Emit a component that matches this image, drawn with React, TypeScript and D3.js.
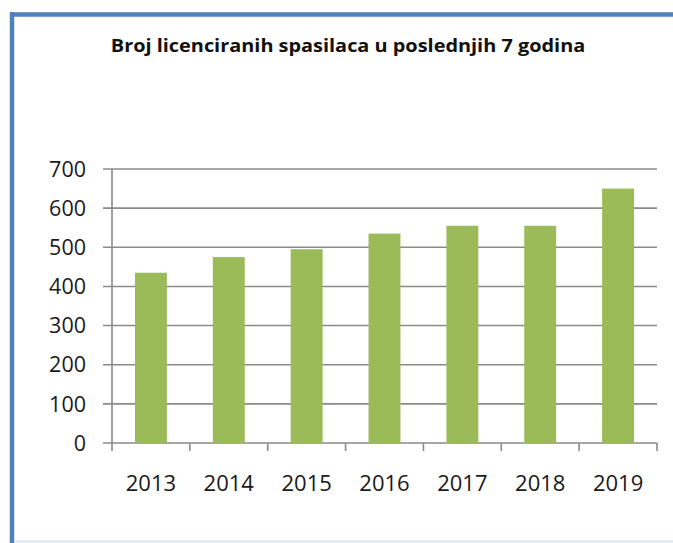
import React from "react";
import * as d3 from "d3";

const years = ["2013", "2014", "2015", "2016", "2017", "2018", "2019"];
const values = [435, 475, 495, 535, 555, 555, 650];
const yTicks = [0, 100, 200, 300, 400, 500, 600, 700];
const title = "Broj licenciranih spasilaca u poslednjih  7 godina";

const W = 673;
const H = 543;
const left = 112;
const right = 657;
const top = 169;
const bottom = 443;

export default function App() {
  const x = d3.scaleBand<string>().domain(years).range([left, right]).paddingInner(0.59).paddingOuter(0.295);
  const xb = d3.scaleBand<string>().domain(years).range([left, right]);
  const y = d3.scaleLinear().domain([0, 700]).range([bottom, top]);
  const font = "'Open Sans', sans-serif";
  const boundaries = [...years.map((d) => xb(d) as number), right];

  return (
    <svg width={W} height={H} style={{ position: "absolute", left: 0, top: 0, background: "#fff" }}>
      <rect x={0} y={0} width={W} height={H} fill="#fff" />
      {/* frame */}
      <line x1={10} x2={W} y1={14.5} y2={14.5} stroke="#4F81BD" strokeWidth={4.5} />
      <line x1={12} x2={12} y1={12} y2={H} stroke="#4F81BD" strokeWidth={4.5} />
      <line x1={14} x2={W} y1={541.5} y2={541.5} stroke="#dce6f2" strokeWidth={2} />

      <g transform="translate(348,52) scale(1.17,1)">
        <text x={0} y={0} textAnchor="middle" fontFamily={font} fontWeight="bold" fontSize={17} fill="#111">
          {title}
        </text>
      </g>

      {/* gridlines */}
      {yTicks.map((t) => (
        <line key={"g" + t} x1={left - 9} x2={right} y1={y(t)} y2={y(t)} stroke="#8a8a8a" strokeWidth={1.6} />
      ))}
      {/* y axis line */}
      <line x1={left} x2={left} y1={top} y2={bottom} stroke="#8a8a8a" strokeWidth={1.6} />
      {/* x ticks */}
      {boundaries.map((b, i) => (
        <line key={"t" + i} x1={b} x2={b} y1={bottom} y2={bottom + 8} stroke="#8a8a8a" strokeWidth={1.6} />
      ))}

      {values.map((v, i) => (
        <rect
          key={years[i]}
          x={x(years[i])}
          y={y(v)}
          width={x.bandwidth()}
          height={bottom - y(v)}
          fill="#9BBB59"
        />
      ))}

      {yTicks.map((t) => (
        <text key={"yl" + t} x={86} y={y(t)} dy="0.36em" textAnchor="end" fontFamily={font} fontSize={21.5} fill="#1a1a1a">
          {t}
        </text>
      ))}
      {years.map((yr) => (
        <text
          key={"xl" + yr}
          x={(xb(yr) as number) + xb.bandwidth() / 2}
          y={491}
          textAnchor="middle"
          fontFamily={font}
          fontSize={22}
          fill="#1a1a1a"
        >
          {yr}
        </text>
      ))}
    </svg>
  );
}
